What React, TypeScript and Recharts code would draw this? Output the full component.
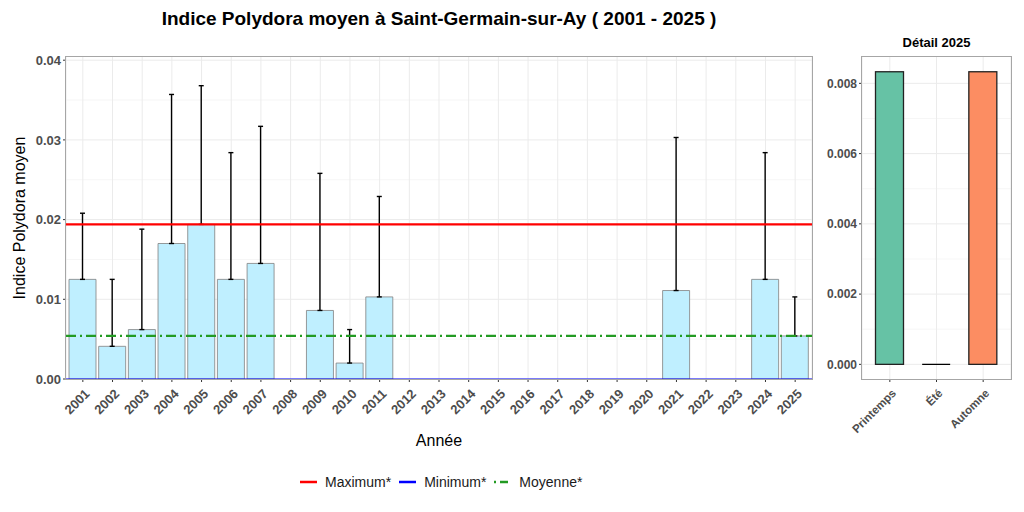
import { BarChart, Bar, XAxis, YAxis, CartesianGrid, ErrorBar, ReferenceLine, Cell } from 'recharts';

// moyenne annuelle + borne haute de l'écart-type (null = pas de données)
const years = [
  '2001', '2002', '2003', '2004', '2005', '2006', '2007', '2008', '2009', '2010',
  '2011', '2012', '2013', '2014', '2015', '2016', '2017', '2018', '2019', '2020',
  '2021', '2022', '2023', '2024', '2025',
];
const meanValues = [
  0.0125, 0.0041, 0.0062, 0.0170, 0.0194, 0.0125, 0.0145, null, 0.0086, 0.0020,
  0.0103, null, null, null, null, null, null, null, null, null,
  0.0111, null, null, 0.0125, 0.0054,
];
const upperValues = [
  0.0208, 0.0125, 0.0188, 0.0357, 0.0368, 0.0284, 0.0317, null, 0.0258, 0.0062,
  0.0229, null, null, null, null, null, null, null, null, null,
  0.0303, null, null, 0.0284, 0.0103,
];
const maxRef = 0.0194;
const minRef = 0;
const meanRef = 0.0054;
const yTicks = [0, 0.01, 0.02, 0.03, 0.04];
const yMinor = [0.005, 0.015, 0.025, 0.035];

const seasons = ['Printemps', 'Été', 'Automne'];
const seasonValues = [0.00833, 0, 0.00833];
const seasonColors = ['#66C2A5', '#8DA0CB', '#FC8D62'];
const seasonTicks = [0, 0.002, 0.004, 0.006, 0.008];
const seasonMinor = [0.001, 0.003, 0.005, 0.007];

const legendItems = [
  { label: 'Maximum*', color: '#FF0000', dash: undefined },
  { label: 'Minimum*', color: '#0000FF', dash: undefined },
  { label: 'Moyenne*', color: '#229A22', dash: '2 4 8 4' },
];

const font = '"Liberation Sans", Arial, sans-serif';
const tickGrey = '#4D4D4D';

const yearData = years.map((y, i) => ({
  year: y,
  value: meanValues[i],
  err: meanValues[i] == null ? undefined : [0, (upperValues[i] as number) - (meanValues[i] as number)],
}));

const seasonData = seasons.map((s, i) => ({ season: s, value: seasonValues[i] }));

function RotTick({ x, y, payload, size }: any) {
  return (
    <g transform={`translate(${x + 1},${y + 4}) rotate(-45)`}>
      <text textAnchor="end" dy="0.72em" fontFamily={font} fontWeight="bold" fontSize={size} fill={tickGrey}>
        {payload.value}
      </text>
    </g>
  );
}

function SeasonBar(props: any) {
  const { x, y, width, height, fill } = props;
  if (!height) {
    return <line x1={x} x2={x + width} y1={y} y2={y} stroke="#000" strokeWidth={1.3} />;
  }
  return <rect x={x} y={y} width={width} height={height} fill={fill} stroke="#222" strokeWidth={1.3} />;
}

export default function App() {
  return (
    <div style={{ position: 'absolute', left: 0, top: 0, width: 1024, height: 512, background: '#fff', fontFamily: font }}>
      <div style={{ position: 'absolute', left: 66, width: 746, top: 8, textAlign: 'center', fontSize: 19, fontWeight: 'bold', color: '#000' }}>
        Indice Polydora moyen à Saint-Germain-sur-Ay ( 2001 - 2025 )
      </div>
      <div style={{ position: 'absolute', left: 862, width: 149, top: 35, textAlign: 'center', fontSize: 13, fontWeight: 'bold', color: '#000' }}>
        Détail 2025
      </div>

      <div style={{ position: 'absolute', left: 0, top: 0 }}>
        <BarChart width={830} height={512} data={yearData} margin={{ top: 57, right: 18, bottom: 0, left: 0 }} barSize={27}>
          <CartesianGrid horizontalValues={yMinor} vertical={false} stroke="#F4F4F4" strokeWidth={0.8} />
          <CartesianGrid horizontalValues={yTicks} stroke="#EBEBEB" strokeWidth={1} />
          <XAxis
            dataKey="year"
            interval={0}
            height={133}
            padding={{ left: 2, right: 2 }}
            axisLine={false}
            tickLine={{ stroke: '#333' }}
            tickSize={3}
            tick={(p: any) => <RotTick {...p} size={13} />}
          />
          <YAxis
            type="number"
            width={66}
            domain={[0, 0.0404]}
            ticks={yTicks}
            interval={0}
            allowDataOverflow
            axisLine={false}
            tickLine={{ stroke: '#333' }}
            tickSize={3}
            tickFormatter={(v: number) => v.toFixed(2)}
            tick={{ fontFamily: font, fontWeight: 'bold', fontSize: 13, fill: tickGrey }}
          />
          <Bar dataKey="value" fill="#BFEFFF" stroke="#808080" strokeWidth={0.8} isAnimationActive={false}>
            <ErrorBar dataKey="err" width={2.5} stroke="#000" strokeWidth={1.4} direction="y" />
          </Bar>
          <ReferenceLine y={maxRef} stroke="#FF0000" strokeWidth={2.2} />
          <ReferenceLine y={minRef} stroke="#0000FF" strokeWidth={1.2} />
          <ReferenceLine y={meanRef} stroke="#229A22" strokeWidth={2.2} strokeDasharray="10 4 2 4" />
        </BarChart>
      </div>

      <div style={{ position: 'absolute', left: 780, top: 0 }}>
        <BarChart width={244} height={512} data={seasonData} margin={{ top: 57, right: 13, bottom: 0, left: 0 }} barSize={28}>
          <CartesianGrid horizontalValues={seasonMinor} vertical={false} stroke="#F4F4F4" strokeWidth={0.8} />
          <CartesianGrid horizontalValues={seasonTicks} stroke="#EBEBEB" strokeWidth={1} />
          <XAxis
            dataKey="season"
            interval={0}
            height={133}
            padding={{ left: 4.5, right: 4.5 }}
            axisLine={false}
            tickLine={{ stroke: '#333' }}
            tickSize={3}
            tick={(p: any) => <RotTick {...p} size={11.5} />}
          />
          <YAxis
            type="number"
            width={82}
            domain={[-0.000417, 0.00875]}
            ticks={seasonTicks}
            interval={0}
            allowDataOverflow
            axisLine={false}
            tickLine={{ stroke: '#333' }}
            tickSize={3}
            tickFormatter={(v: number) => v.toFixed(3)}
            tick={{ fontFamily: font, fontWeight: 'bold', fontSize: 12, fill: tickGrey }}
          />
          <Bar dataKey="value" shape={SeasonBar} isAnimationActive={false}>
            {seasonData.map((d, i) => (
              <Cell key={d.season} fill={seasonColors[i]} />
            ))}
          </Bar>
        </BarChart>
      </div>

      {/* cadres des panneaux */}
      <div style={{ position: 'absolute', left: 65, top: 56, width: 748, height: 324, boxSizing: 'border-box', border: '1px solid #A6A6A6', pointerEvents: 'none' }} />
      <div style={{ position: 'absolute', left: 861, top: 56, width: 151, height: 324, boxSizing: 'border-box', border: '1px solid #A6A6A6', pointerEvents: 'none' }} />

      <div style={{ position: 'absolute', left: 0, top: 210, width: 40, height: 16, transform: 'rotate(-90deg)', transformOrigin: '20px 8px', textAlign: 'center', whiteSpace: 'nowrap', fontSize: 16, color: '#000', lineHeight: '16px' }}>
        <span style={{ display: 'inline-block', marginLeft: -80, width: 200 }}>Indice Polydora moyen</span>
      </div>
      <div style={{ position: 'absolute', left: 66, width: 746, top: 432, textAlign: 'center', fontSize: 16, color: '#000' }}>
        Année
      </div>

      <div style={{ position: 'absolute', left: 300, top: 474, display: 'flex', alignItems: 'center', fontSize: 14, color: '#1A1A1A' }}>
        {legendItems.map((it) => (
          <div key={it.label} style={{ display: 'flex', alignItems: 'center', marginRight: 8 }}>
            <svg width={17} height={16} style={{ marginRight: 8 }}>
              <line x1={0} x2={17} y1={8} y2={8} stroke={it.color} strokeWidth={2.5} strokeDasharray={it.dash} />
            </svg>
            <span>{it.label}</span>
          </div>
        ))}
      </div>
    </div>
  );
}
